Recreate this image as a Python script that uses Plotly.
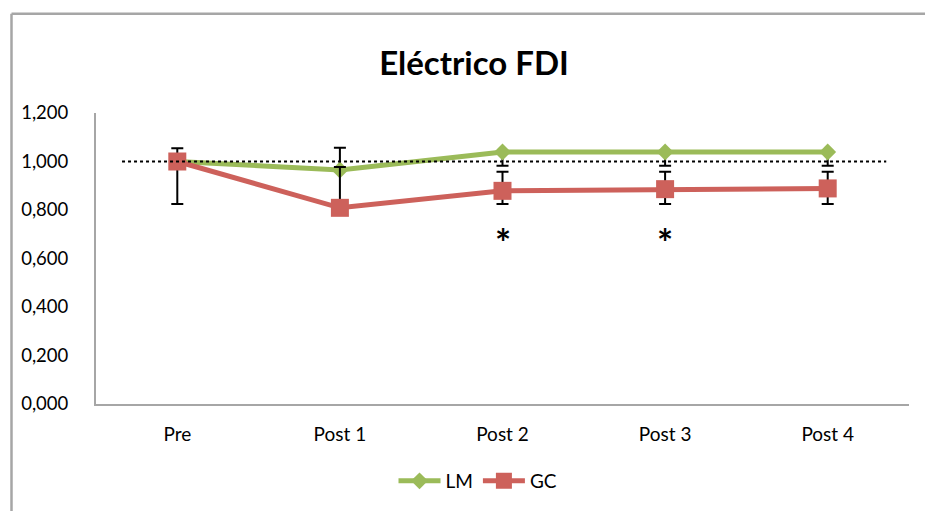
import plotly.graph_objects as go

# Time points and normalised electrical response (FDI)
categories = ["Pre", "Post 1", "Post 2", "Post 3", "Post 4"]
lm_values = [1.000, 0.965, 1.039, 1.039, 1.039]
gc_values = [1.000, 0.809, 0.879, 0.886, 0.889]

# Error bars (upper / lower extents)
lm_err_plus = [0.055, 0.092, 0.0, 0.0, 0.0]
lm_err_minus = [0.0, 0.0, 0.057, 0.057, 0.057]
gc_err_plus = [0.0, 0.168, 0.079, 0.072, 0.069]
gc_err_minus = [0.175, 0.0, 0.054, 0.061, 0.064]

# Significance markers
sig_points = ["Post 2", "Post 3"]
sig_level = 0.67
reference_level = 1.0

GREEN = "#9BBB59"
RED = "#CD615B"
FONT = "Lato"

W, H = 925, 511
L, R, T, B = 96, 16, 113, 106
pw, ph = W - L - R, H - T - B


def px_x(p):
    return (p - L) / pw


def px_y(p):
    return (H - B - p) / ph


fig = go.Figure()

fig.add_trace(go.Scatter(
    x=categories, y=lm_values, name="LM", mode="lines+markers",
    line=dict(color=GREEN, width=5),
    marker=dict(symbol="diamond", size=13, color=GREEN),
    error_y=dict(type="data", symmetric=False, array=lm_err_plus,
                 arrayminus=lm_err_minus, color="black", thickness=2, width=6),
))
fig.add_trace(go.Scatter(
    x=categories, y=gc_values, name="GC", mode="lines+markers",
    line=dict(color=RED, width=5),
    marker=dict(symbol="square", size=18, color=RED),
    error_y=dict(type="data", symmetric=False, array=gc_err_plus,
                 arrayminus=gc_err_minus, color="black", thickness=2, width=6),
))

# Dotted baseline at 1.0
fig.add_shape(type="line", xref="x", yref="y", x0=-0.34, x1=4.36,
              y0=reference_level, y1=reference_level,
              line=dict(color="black", width=2, dash="dot"), layer="above")

# Outer chart frame (left and top edges)
fig.add_shape(type="line", xref="paper", yref="paper",
              x0=px_x(11.5), x1=px_x(11.5), y0=px_y(13.5), y1=px_y(530),
              line=dict(color="#A6A6A6", width=2.5))
fig.add_shape(type="line", xref="paper", yref="paper",
              x0=px_x(11.5), x1=px_x(940), y0=px_y(13.5), y1=px_y(13.5),
              line=dict(color="#A6A6A6", width=2.5))

for c in sig_points:
    fig.add_annotation(x=c, y=sig_level, xref="x", yref="y", text="<b>*</b>",
                       showarrow=False, font=dict(family=FONT, size=38, color="black"))

fig.update_layout(
    width=W, height=H,
    margin=dict(l=L, r=R, t=T, b=B),
    paper_bgcolor="white", plot_bgcolor="white",
    separators=",.",
    font=dict(family=FONT, size=18, color="black"),
    title=dict(text="<b>Eléctrico FDI</b>", xref="container", x=474 / W,
               xanchor="center", yref="container", y=1 - 63 / H,
               yanchor="middle",
               font=dict(family=FONT, size=33, color="black")),
    showlegend=True,
    legend=dict(orientation="h", x=px_x(478), xanchor="center",
                y=px_y(481), yanchor="middle",
                font=dict(family=FONT, size=19), itemwidth=42,
                bgcolor="rgba(0,0,0,0)"),
    xaxis=dict(type="category", range=[-0.5, 4.5], showgrid=False,
               showline=True, linecolor="#A6A6A6", linewidth=2,
               ticks="", ticklabelstandoff=12, tickfont=dict(size=19)),
    yaxis=dict(range=[0, 1.2], dtick=0.2, tickformat=".3f", showgrid=False,
               zeroline=False, showline=True, linecolor="#A6A6A6", linewidth=2,
               ticks="", ticklabelstandoff=22, tickfont=dict(size=18.5)),
)

fig.write_html("out.html")
